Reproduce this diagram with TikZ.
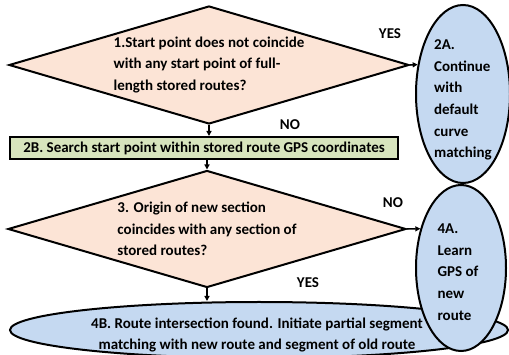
\documentclass[tikz,border=0pt]{standalone}
\usepackage{fontspec}
\setmainfont{Carlito}
\definecolor{peachfill}{RGB}{252, 228, 214}
\definecolor{skyfill}{RGB}{197, 217, 241}
\definecolor{sagefill}{RGB}{215, 228, 189}
\usetikzlibrary{shapes.geometric, arrows.meta, positioning}

\begin{document}
\begin{tikzpicture}[
  x=1pt, y=-1pt,
  font=\fontsize{15}{21.6}\selectfont\bfseries,
  decide/.style={draw, diamond, aspect=3.4, line width=2pt, fill=peachfill, align=left, inner sep=0pt},
  endbox/.style={draw, ellipse, line width=2pt, fill=skyfill, inner sep=0pt},
  actbox/.style={draw, rectangle, line width=2pt, fill=sagefill, inner sep=0pt},
  flow/.style={line width=1.5pt, -{Triangle[length=5pt, width=5pt]}},
  answer/.style={inner sep=0pt},
  words/.style={inner sep=0pt, align=left}
]
  \useasboundingbox (0,0) rectangle (509,355);

  \node[decide, minimum width=400pt, minimum height=118pt] (d1) at (209, 65) {
    1.Start point does not coincide\\
    with any start point of full-\\
    length stored routes?
  };

  \node[actbox, minimum width=388pt, minimum height=22pt] (b2) at (204, 148)
    {2B. Search start point within stored route GPS coordinates};

  \node[decide, minimum width=398pt, minimum height=117pt] (d3) at (207, 229) {
    3. Origin of new section\\
    coincides with any section of\\
    stored routes?
  };

  \node[endbox, minimum width=498pt, minimum height=56pt] (e4b) at (259, 330) {};
  \node[words, align=center] (t4b) at (257, 335) {
    4B. Route intersection found. Initiate partial segment\\
    matching with new route and segment of old route
  };

  \node[endbox, minimum width=94pt, minimum height=178pt] (e2a) at (463, 94) {};
  \node[words] (t2a) at (463, 100) {
    2A.\\ Continue\\ with\\ default\\ curve\\ matching
  };

  \node[endbox, minimum width=90pt, minimum height=166pt] (e4a) at (461, 268) {};
  \node[words] (t4a) at (458, 272) {
    4A.\\ Learn\\ GPS of\\ new\\ route
  };

  \draw[flow] (d1.east) -- (e2a.147);
  \draw[flow] (d1.south) -- (d1.south |- b2.north);
  \draw[flow] (b2.south -| d3.north) -- (d3.north);
  \draw[flow] (d3.east) -- (e4a.136);
  \draw[flow] (d3.south) -- (d3.south |- e4b.north);

  \node[answer] (yes1) at (390, 34) {YES};
  \node[answer] (no1) at (290, 125) {NO};
  \node[answer] (no3) at (393, 203) {NO};
  \node[answer] (yes3) at (308, 283) {YES};
\end{tikzpicture}
\end{document}
